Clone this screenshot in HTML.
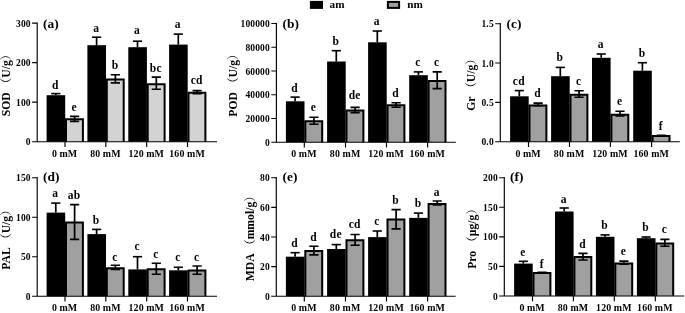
<!DOCTYPE html>
<html><head><meta charset="utf-8"><title>figure</title>
<style>html,body{margin:0;padding:0;background:#fff}body{width:685px;height:313px;overflow:hidden}svg{display:block}text{font-family:"Liberation Serif", "Noto Serif CJK SC", serif;font-weight:bold;fill:#000}.t{font-size:9.5px;letter-spacing:0.15px}.x{font-size:9.9px;letter-spacing:0.12px}.l{font-size:11.5px;letter-spacing:0.3px}.p{font-size:13.4px}.y{font-size:11.7px}.g{font-size:11.2px}.n{font-weight:normal}</style></head><body>
<svg width="685" height="313" viewBox="0 0 685 313">
<rect width="685" height="313" fill="#fff"/>
<rect x="309.9" y="0.9" width="13.1" height="8.0" fill="#000"/>
<text class="g" x="329.6" y="8.0">am</text>
<rect x="387.9" y="1.9" width="11.2" height="6.0" fill="#a0a0a0" stroke="#000" stroke-width="2"/>
<text class="g" x="407.2" y="8.0">nm</text>
<g id="panel-a">
<rect x="46.60" y="95.20" width="18.6" height="46.50" fill="#000"/>
<path d="M55.80 95.20V93.60" stroke="#000" stroke-width="1.7" fill="none"/><path d="M51.20 93.60H60.40" stroke="#000" stroke-width="1.6" fill="none"/>
<text class="l" x="55.40" y="88.50" text-anchor="middle">d</text>
<path d="M66.00 141.70V119.20H82.90V141.70" fill="#d3d3d3" stroke="#000" stroke-width="2.0"/>
<path d="M74.60 116.40V121.40" stroke="#000" stroke-width="1.7" fill="none"/><path d="M70.00 116.40H79.20M70.00 121.40H79.20" stroke="#000" stroke-width="1.6" fill="none"/>
<text class="l" x="74.20" y="110.60" text-anchor="middle">e</text>
<rect x="87.40" y="45.20" width="18.6" height="96.50" fill="#000"/>
<path d="M96.60 45.20V37.20" stroke="#000" stroke-width="1.7" fill="none"/><path d="M92.00 37.20H101.20" stroke="#000" stroke-width="1.6" fill="none"/>
<text class="l" x="96.20" y="32.00" text-anchor="middle">a</text>
<path d="M106.80 141.70V79.60H123.70V141.70" fill="#d3d3d3" stroke="#000" stroke-width="2.0"/>
<path d="M115.40 74.70V82.90" stroke="#000" stroke-width="1.7" fill="none"/><path d="M110.80 74.70H120.00M110.80 82.90H120.00" stroke="#000" stroke-width="1.6" fill="none"/>
<text class="l" x="115.00" y="68.80" text-anchor="middle">b</text>
<rect x="128.30" y="47.20" width="18.6" height="94.50" fill="#000"/>
<path d="M137.50 47.20V41.20" stroke="#000" stroke-width="1.7" fill="none"/><path d="M132.90 41.20H142.10" stroke="#000" stroke-width="1.6" fill="none"/>
<text class="l" x="137.10" y="33.80" text-anchor="middle">a</text>
<path d="M147.70 141.70V84.30H164.60V141.70" fill="#d3d3d3" stroke="#000" stroke-width="2.0"/>
<path d="M156.30 77.10V89.20" stroke="#000" stroke-width="1.7" fill="none"/><path d="M151.70 77.10H160.90M151.70 89.20H160.90" stroke="#000" stroke-width="1.6" fill="none"/>
<text class="l" x="155.90" y="71.80" text-anchor="middle">bc</text>
<rect x="169.10" y="44.60" width="18.6" height="97.10" fill="#000"/>
<path d="M178.30 44.60V34.10" stroke="#000" stroke-width="1.7" fill="none"/><path d="M173.70 34.10H182.90" stroke="#000" stroke-width="1.6" fill="none"/>
<text class="l" x="177.90" y="28.40" text-anchor="middle">a</text>
<path d="M188.50 141.70V92.70H205.40V141.70" fill="#d3d3d3" stroke="#000" stroke-width="2.0"/>
<path d="M197.10 90.60V93.60" stroke="#000" stroke-width="1.7" fill="none"/><path d="M192.50 90.60H201.70M192.50 93.60H201.70" stroke="#000" stroke-width="1.6" fill="none"/>
<text class="l" x="196.70" y="83.50" text-anchor="middle">cd</text>
<path d="M37.20 22.53V141.70M32.10 141.70H217.00M32.10 23.10H37.20M32.10 62.63H37.20M32.10 102.17H37.20M65.00 141.70V146.90M105.80 141.70V146.90M146.70 141.70V146.90M187.50 141.70V146.90" stroke="#000" stroke-width="1.15" fill="none"/>
<text class="t" x="30.70" y="26.70" text-anchor="end">300</text>
<text class="t" x="30.70" y="66.23" text-anchor="end">200</text>
<text class="t" x="30.70" y="105.77" text-anchor="end">100</text>
<text class="t" x="30.70" y="145.30" text-anchor="end">0</text>
<text class="x" x="64.60" y="156.80" text-anchor="middle">0 mM</text>
<text class="x" x="105.40" y="156.80" text-anchor="middle">80 mM</text>
<text class="x" x="146.30" y="156.80" text-anchor="middle">120 mM</text>
<text class="x" x="187.10" y="156.80" text-anchor="middle">160 mM</text>
<text class="p" x="43.00" y="27.70">(a)</text>
<text class="y" transform="translate(9.60 82.40) rotate(-90)" text-anchor="middle">SOD <tspan class="n">（</tspan>U/g<tspan class="n">）</tspan></text>
</g>
<g id="panel-b">
<rect x="285.90" y="101.30" width="18.6" height="40.90" fill="#000"/>
<path d="M295.10 101.30V97.10" stroke="#000" stroke-width="1.7" fill="none"/><path d="M290.50 97.10H299.70" stroke="#000" stroke-width="1.6" fill="none"/>
<text class="l" x="294.70" y="91.90" text-anchor="middle">d</text>
<path d="M305.30 142.20V121.20H322.20V142.20" fill="#a0a0a0" stroke="#000" stroke-width="2.0"/>
<path d="M313.90 117.30V124.30" stroke="#000" stroke-width="1.7" fill="none"/><path d="M309.30 117.30H318.50M309.30 124.30H318.50" stroke="#000" stroke-width="1.6" fill="none"/>
<text class="l" x="313.50" y="111.30" text-anchor="middle">e</text>
<rect x="327.10" y="61.50" width="18.6" height="80.70" fill="#000"/>
<path d="M336.30 61.50V50.70" stroke="#000" stroke-width="1.7" fill="none"/><path d="M331.70 50.70H340.90" stroke="#000" stroke-width="1.6" fill="none"/>
<text class="l" x="335.90" y="44.60" text-anchor="middle">b</text>
<path d="M346.50 142.20V110.40H363.40V142.20" fill="#a0a0a0" stroke="#000" stroke-width="2.0"/>
<path d="M355.10 107.40V112.60" stroke="#000" stroke-width="1.7" fill="none"/><path d="M350.50 107.40H359.70M350.50 112.60H359.70" stroke="#000" stroke-width="1.6" fill="none"/>
<text class="l" x="354.70" y="98.60" text-anchor="middle">de</text>
<rect x="368.10" y="42.30" width="18.6" height="99.90" fill="#000"/>
<path d="M377.30 42.30V31.00" stroke="#000" stroke-width="1.7" fill="none"/><path d="M372.70 31.00H381.90" stroke="#000" stroke-width="1.6" fill="none"/>
<text class="l" x="376.90" y="24.80" text-anchor="middle">a</text>
<path d="M387.50 142.20V105.30H404.40V142.20" fill="#a0a0a0" stroke="#000" stroke-width="2.0"/>
<path d="M396.10 102.70V107.20" stroke="#000" stroke-width="1.7" fill="none"/><path d="M391.50 102.70H400.70M391.50 107.20H400.70" stroke="#000" stroke-width="1.6" fill="none"/>
<text class="l" x="395.70" y="97.00" text-anchor="middle">d</text>
<rect x="409.20" y="75.20" width="18.6" height="67.00" fill="#000"/>
<path d="M418.40 75.20V71.90" stroke="#000" stroke-width="1.7" fill="none"/><path d="M413.80 71.90H423.00" stroke="#000" stroke-width="1.6" fill="none"/>
<text class="l" x="418.00" y="66.00" text-anchor="middle">c</text>
<path d="M428.60 142.20V81.10H445.50V142.20" fill="#a0a0a0" stroke="#000" stroke-width="2.0"/>
<path d="M437.20 71.90V88.60" stroke="#000" stroke-width="1.7" fill="none"/><path d="M432.60 71.90H441.80M432.60 88.60H441.80" stroke="#000" stroke-width="1.6" fill="none"/>
<text class="l" x="436.80" y="66.00" text-anchor="middle">c</text>
<path d="M276.40 22.93V142.20M271.30 142.20H455.80M271.30 23.50H276.40M271.30 47.24H276.40M271.30 70.98H276.40M271.30 94.72H276.40M271.30 118.46H276.40M304.30 142.20V147.40M345.50 142.20V147.40M386.50 142.20V147.40M427.60 142.20V147.40" stroke="#000" stroke-width="1.15" fill="none"/>
<text class="t" x="269.90" y="27.10" text-anchor="end">100000</text>
<text class="t" x="269.90" y="50.84" text-anchor="end">80000</text>
<text class="t" x="269.90" y="74.58" text-anchor="end">60000</text>
<text class="t" x="269.90" y="98.32" text-anchor="end">40000</text>
<text class="t" x="269.90" y="122.06" text-anchor="end">20000</text>
<text class="t" x="269.90" y="145.80" text-anchor="end">0</text>
<text class="x" x="303.90" y="157.30" text-anchor="middle">0 mM</text>
<text class="x" x="345.10" y="157.30" text-anchor="middle">80 mM</text>
<text class="x" x="386.10" y="157.30" text-anchor="middle">120 mM</text>
<text class="x" x="427.20" y="157.30" text-anchor="middle">160 mM</text>
<text class="p" x="282.60" y="27.70">(b)</text>
<text class="y" transform="translate(237.20 82.45) rotate(-90)" text-anchor="middle">POD <tspan class="n">（</tspan>U/g<tspan class="n">）</tspan></text>
</g>
<g id="panel-c">
<rect x="510.10" y="96.30" width="18.6" height="45.40" fill="#000"/>
<path d="M519.30 96.30V90.60" stroke="#000" stroke-width="1.7" fill="none"/><path d="M514.70 90.60H523.90" stroke="#000" stroke-width="1.6" fill="none"/>
<text class="l" x="518.90" y="84.50" text-anchor="middle">cd</text>
<path d="M529.50 141.70V105.40H546.40V141.70" fill="#a0a0a0" stroke="#000" stroke-width="2.0"/>
<path d="M538.10 103.10V105.60" stroke="#000" stroke-width="1.7" fill="none"/><path d="M533.50 103.10H542.70M533.50 105.60H542.70" stroke="#000" stroke-width="1.6" fill="none"/>
<text class="l" x="537.70" y="97.00" text-anchor="middle">d</text>
<rect x="551.10" y="76.20" width="18.6" height="65.50" fill="#000"/>
<path d="M560.30 76.20V67.40" stroke="#000" stroke-width="1.7" fill="none"/><path d="M555.70 67.40H564.90" stroke="#000" stroke-width="1.6" fill="none"/>
<text class="l" x="559.90" y="60.70" text-anchor="middle">b</text>
<path d="M570.50 141.70V94.80H587.40V141.70" fill="#a0a0a0" stroke="#000" stroke-width="2.0"/>
<path d="M579.10 90.80V97.20" stroke="#000" stroke-width="1.7" fill="none"/><path d="M574.50 90.80H583.70M574.50 97.20H583.70" stroke="#000" stroke-width="1.6" fill="none"/>
<text class="l" x="578.70" y="84.50" text-anchor="middle">c</text>
<rect x="592.00" y="57.80" width="18.6" height="83.90" fill="#000"/>
<path d="M601.20 57.80V54.00" stroke="#000" stroke-width="1.7" fill="none"/><path d="M596.60 54.00H605.80" stroke="#000" stroke-width="1.6" fill="none"/>
<text class="l" x="600.80" y="47.50" text-anchor="middle">a</text>
<path d="M611.40 141.70V114.70H628.30V141.70" fill="#a0a0a0" stroke="#000" stroke-width="2.0"/>
<path d="M620.00 111.30V116.00" stroke="#000" stroke-width="1.7" fill="none"/><path d="M615.40 111.30H624.60M615.40 116.00H624.60" stroke="#000" stroke-width="1.6" fill="none"/>
<text class="l" x="619.60" y="104.70" text-anchor="middle">e</text>
<rect x="633.20" y="70.70" width="18.6" height="71.00" fill="#000"/>
<path d="M642.40 70.70V62.70" stroke="#000" stroke-width="1.7" fill="none"/><path d="M637.80 62.70H647.00" stroke="#000" stroke-width="1.6" fill="none"/>
<text class="l" x="642.00" y="56.90" text-anchor="middle">b</text>
<path d="M652.60 141.70V136.10H669.50V141.70" fill="#a0a0a0" stroke="#000" stroke-width="2.0"/>
<path d="M661.20 135.30V136.30" stroke="#000" stroke-width="1.7" fill="none"/><path d="M656.60 135.30H665.80M656.60 136.30H665.80" stroke="#000" stroke-width="1.6" fill="none"/>
<text class="l" x="660.80" y="130.10" text-anchor="middle">f</text>
<path d="M500.30 23.12V141.70M495.20 141.70H679.80M495.20 23.70H500.30M495.20 63.03H500.30M495.20 102.37H500.30M528.50 141.70V146.90M569.50 141.70V146.90M610.40 141.70V146.90M651.60 141.70V146.90" stroke="#000" stroke-width="1.15" fill="none"/>
<text class="t" x="493.80" y="27.30" text-anchor="end">1.5</text>
<text class="t" x="493.80" y="66.63" text-anchor="end">1.0</text>
<text class="t" x="493.80" y="105.97" text-anchor="end">0.5</text>
<text class="t" x="493.80" y="145.30" text-anchor="end">0.0</text>
<text class="x" x="528.10" y="156.80" text-anchor="middle">0 mM</text>
<text class="x" x="569.10" y="156.80" text-anchor="middle">80 mM</text>
<text class="x" x="610.00" y="156.80" text-anchor="middle">120 mM</text>
<text class="x" x="651.20" y="156.80" text-anchor="middle">160 mM</text>
<text class="p" x="506.60" y="27.70">(c)</text>
<text class="y" transform="translate(475.00 81.90) rotate(-90)" text-anchor="middle">Gr <tspan class="n">（</tspan>U/g<tspan class="n">）</tspan></text>
</g>
<g id="panel-d">
<rect x="46.60" y="212.60" width="18.6" height="83.60" fill="#000"/>
<path d="M55.80 212.60V203.10" stroke="#000" stroke-width="1.7" fill="none"/><path d="M51.20 203.10H60.40" stroke="#000" stroke-width="1.6" fill="none"/>
<text class="l" x="55.40" y="197.10" text-anchor="middle">a</text>
<path d="M66.00 296.20V222.50H82.90V296.20" fill="#a0a0a0" stroke="#000" stroke-width="2.0"/>
<path d="M74.60 204.60V239.40" stroke="#000" stroke-width="1.7" fill="none"/><path d="M70.00 204.60H79.20M70.00 239.40H79.20" stroke="#000" stroke-width="1.6" fill="none"/>
<text class="l" x="74.20" y="198.50" text-anchor="middle">ab</text>
<rect x="87.40" y="234.10" width="18.6" height="62.10" fill="#000"/>
<path d="M96.60 234.10V229.40" stroke="#000" stroke-width="1.7" fill="none"/><path d="M92.00 229.40H101.20" stroke="#000" stroke-width="1.6" fill="none"/>
<text class="l" x="96.20" y="224.00" text-anchor="middle">b</text>
<path d="M106.80 296.20V268.20H123.70V296.20" fill="#a0a0a0" stroke="#000" stroke-width="2.0"/>
<path d="M115.40 265.20V269.50" stroke="#000" stroke-width="1.7" fill="none"/><path d="M110.80 265.20H120.00M110.80 269.50H120.00" stroke="#000" stroke-width="1.6" fill="none"/>
<text class="l" x="115.00" y="260.70" text-anchor="middle">c</text>
<rect x="128.30" y="269.40" width="18.6" height="26.80" fill="#000"/>
<path d="M137.50 269.40V256.70" stroke="#000" stroke-width="1.7" fill="none"/><path d="M132.90 256.70H142.10" stroke="#000" stroke-width="1.6" fill="none"/>
<text class="l" x="137.10" y="250.10" text-anchor="middle">c</text>
<path d="M147.70 296.20V269.30H164.60V296.20" fill="#a0a0a0" stroke="#000" stroke-width="2.0"/>
<path d="M156.30 263.20V274.30" stroke="#000" stroke-width="1.7" fill="none"/><path d="M151.70 263.20H160.90M151.70 274.30H160.90" stroke="#000" stroke-width="1.6" fill="none"/>
<text class="l" x="155.90" y="257.60" text-anchor="middle">c</text>
<rect x="169.10" y="270.30" width="18.6" height="25.90" fill="#000"/>
<path d="M178.30 270.30V267.30" stroke="#000" stroke-width="1.7" fill="none"/><path d="M173.70 267.30H182.90" stroke="#000" stroke-width="1.6" fill="none"/>
<text class="l" x="177.90" y="261.20" text-anchor="middle">c</text>
<path d="M188.50 296.20V270.50H205.40V296.20" fill="#a0a0a0" stroke="#000" stroke-width="2.0"/>
<path d="M197.10 266.00V274.20" stroke="#000" stroke-width="1.7" fill="none"/><path d="M192.50 266.00H201.70M192.50 274.20H201.70" stroke="#000" stroke-width="1.6" fill="none"/>
<text class="l" x="196.70" y="260.60" text-anchor="middle">c</text>
<path d="M37.20 177.12V296.20M32.10 296.20H217.00M32.10 177.70H37.20M32.10 217.20H37.20M32.10 256.70H37.20M65.00 296.20V301.40M105.80 296.20V301.40M146.70 296.20V301.40M187.50 296.20V301.40" stroke="#000" stroke-width="1.15" fill="none"/>
<text class="t" x="30.70" y="181.30" text-anchor="end">150</text>
<text class="t" x="30.70" y="220.80" text-anchor="end">100</text>
<text class="t" x="30.70" y="260.30" text-anchor="end">50</text>
<text class="t" x="30.70" y="299.80" text-anchor="end">0</text>
<text class="x" x="64.60" y="311.30" text-anchor="middle">0 mM</text>
<text class="x" x="105.40" y="311.30" text-anchor="middle">80 mM</text>
<text class="x" x="146.30" y="311.30" text-anchor="middle">120 mM</text>
<text class="x" x="187.10" y="311.30" text-anchor="middle">160 mM</text>
<text class="p" x="43.00" y="180.70">(d)</text>
<text class="y" transform="translate(9.60 236.95) rotate(-90)" text-anchor="middle">PAL <tspan class="n">（</tspan>U/g<tspan class="n">）</tspan></text>
</g>
<g id="panel-e">
<rect x="285.90" y="256.70" width="18.6" height="39.50" fill="#000"/>
<path d="M295.10 256.70V252.70" stroke="#000" stroke-width="1.7" fill="none"/><path d="M290.50 252.70H299.70" stroke="#000" stroke-width="1.6" fill="none"/>
<text class="l" x="294.70" y="246.90" text-anchor="middle">d</text>
<path d="M305.30 296.20V250.90H322.20V296.20" fill="#a0a0a0" stroke="#000" stroke-width="2.0"/>
<path d="M313.90 246.20V254.90" stroke="#000" stroke-width="1.7" fill="none"/><path d="M309.30 246.20H318.50M309.30 254.90H318.50" stroke="#000" stroke-width="1.6" fill="none"/>
<text class="l" x="313.50" y="240.50" text-anchor="middle">d</text>
<rect x="327.10" y="249.00" width="18.6" height="47.20" fill="#000"/>
<path d="M336.30 249.00V244.60" stroke="#000" stroke-width="1.7" fill="none"/><path d="M331.70 244.60H340.90" stroke="#000" stroke-width="1.6" fill="none"/>
<text class="l" x="335.90" y="237.90" text-anchor="middle">de</text>
<path d="M346.50 296.20V240.30H363.40V296.20" fill="#a0a0a0" stroke="#000" stroke-width="2.0"/>
<path d="M355.10 234.50V245.30" stroke="#000" stroke-width="1.7" fill="none"/><path d="M350.50 234.50H359.70M350.50 245.30H359.70" stroke="#000" stroke-width="1.6" fill="none"/>
<text class="l" x="354.70" y="227.90" text-anchor="middle">cd</text>
<rect x="368.10" y="237.10" width="18.6" height="59.10" fill="#000"/>
<path d="M377.30 237.10V231.00" stroke="#000" stroke-width="1.7" fill="none"/><path d="M372.70 231.00H381.90" stroke="#000" stroke-width="1.6" fill="none"/>
<text class="l" x="376.90" y="225.20" text-anchor="middle">c</text>
<path d="M387.50 296.20V219.60H404.40V296.20" fill="#a0a0a0" stroke="#000" stroke-width="2.0"/>
<path d="M396.10 209.60V228.90" stroke="#000" stroke-width="1.7" fill="none"/><path d="M391.50 209.60H400.70M391.50 228.90H400.70" stroke="#000" stroke-width="1.6" fill="none"/>
<text class="l" x="395.70" y="203.50" text-anchor="middle">b</text>
<rect x="409.20" y="217.90" width="18.6" height="78.30" fill="#000"/>
<path d="M418.40 217.90V213.10" stroke="#000" stroke-width="1.7" fill="none"/><path d="M413.80 213.10H423.00" stroke="#000" stroke-width="1.6" fill="none"/>
<text class="l" x="418.00" y="206.90" text-anchor="middle">b</text>
<path d="M428.60 296.20V204.10H445.50V296.20" fill="#a0a0a0" stroke="#000" stroke-width="2.0"/>
<path d="M437.20 201.00V205.00" stroke="#000" stroke-width="1.7" fill="none"/><path d="M432.60 201.00H441.80M432.60 205.00H441.80" stroke="#000" stroke-width="1.6" fill="none"/>
<text class="l" x="436.80" y="195.50" text-anchor="middle">a</text>
<path d="M276.30 177.12V296.20M271.20 296.20H455.60M271.20 177.70H276.30M271.20 207.32H276.30M271.20 236.95H276.30M271.20 266.57H276.30M304.30 296.20V301.40M345.50 296.20V301.40M386.50 296.20V301.40M427.60 296.20V301.40" stroke="#000" stroke-width="1.15" fill="none"/>
<text class="t" x="269.80" y="181.30" text-anchor="end">80</text>
<text class="t" x="269.80" y="210.92" text-anchor="end">60</text>
<text class="t" x="269.80" y="240.55" text-anchor="end">40</text>
<text class="t" x="269.80" y="270.18" text-anchor="end">20</text>
<text class="t" x="269.80" y="299.80" text-anchor="end">0</text>
<text class="x" x="303.90" y="311.30" text-anchor="middle">0 mM</text>
<text class="x" x="345.10" y="311.30" text-anchor="middle">80 mM</text>
<text class="x" x="386.10" y="311.30" text-anchor="middle">120 mM</text>
<text class="x" x="427.20" y="311.30" text-anchor="middle">160 mM</text>
<text class="p" x="282.60" y="180.70">(e)</text>
<text class="y" transform="translate(254.20 235.65) rotate(-90)" text-anchor="middle">MDA <tspan class="n">（</tspan>mmol/g<tspan class="n">）</tspan></text>
</g>
<g id="panel-f">
<rect x="514.10" y="263.60" width="18.6" height="32.40" fill="#000"/>
<path d="M523.30 263.60V261.30" stroke="#000" stroke-width="1.7" fill="none"/><path d="M518.70 261.30H527.90" stroke="#000" stroke-width="1.6" fill="none"/>
<text class="l" x="522.90" y="255.60" text-anchor="middle">e</text>
<path d="M533.50 296.00V273.00H550.40V296.00" fill="#a0a0a0" stroke="#000" stroke-width="2.0"/>
<path d="M542.10 272.40V273.00" stroke="#000" stroke-width="1.7" fill="none"/><path d="M537.50 272.40H546.70M537.50 273.00H546.70" stroke="#000" stroke-width="1.6" fill="none"/>
<text class="l" x="541.70" y="268.10" text-anchor="middle">f</text>
<rect x="555.00" y="211.50" width="18.6" height="84.50" fill="#000"/>
<path d="M564.20 211.50V208.00" stroke="#000" stroke-width="1.7" fill="none"/><path d="M559.60 208.00H568.80" stroke="#000" stroke-width="1.6" fill="none"/>
<text class="l" x="563.80" y="203.00" text-anchor="middle">a</text>
<path d="M574.40 296.00V257.10H591.30V296.00" fill="#a0a0a0" stroke="#000" stroke-width="2.0"/>
<path d="M583.00 253.40V260.00" stroke="#000" stroke-width="1.7" fill="none"/><path d="M578.40 253.40H587.60M578.40 260.00H587.60" stroke="#000" stroke-width="1.6" fill="none"/>
<text class="l" x="582.60" y="247.50" text-anchor="middle">d</text>
<rect x="595.90" y="236.80" width="18.6" height="59.20" fill="#000"/>
<path d="M605.10 236.80V234.90" stroke="#000" stroke-width="1.7" fill="none"/><path d="M600.50 234.90H609.70" stroke="#000" stroke-width="1.6" fill="none"/>
<text class="l" x="604.70" y="229.00" text-anchor="middle">b</text>
<path d="M615.30 296.00V263.40H632.20V296.00" fill="#a0a0a0" stroke="#000" stroke-width="2.0"/>
<path d="M623.90 261.10V264.30" stroke="#000" stroke-width="1.7" fill="none"/><path d="M619.30 261.10H628.50M619.30 264.30H628.50" stroke="#000" stroke-width="1.6" fill="none"/>
<text class="l" x="623.50" y="255.00" text-anchor="middle">e</text>
<rect x="636.90" y="238.20" width="18.6" height="57.80" fill="#000"/>
<path d="M646.10 238.20V237.00" stroke="#000" stroke-width="1.7" fill="none"/><path d="M641.50 237.00H650.70" stroke="#000" stroke-width="1.6" fill="none"/>
<text class="l" x="645.70" y="230.80" text-anchor="middle">b</text>
<path d="M656.30 296.00V243.60H673.20V296.00" fill="#a0a0a0" stroke="#000" stroke-width="2.0"/>
<path d="M664.90 239.40V246.20" stroke="#000" stroke-width="1.7" fill="none"/><path d="M660.30 239.40H669.50M660.30 246.20H669.50" stroke="#000" stroke-width="1.6" fill="none"/>
<text class="l" x="664.50" y="233.40" text-anchor="middle">c</text>
<path d="M504.30 177.12V296.00M499.20 296.00H684.00M499.20 177.70H504.30M499.20 207.27H504.30M499.20 236.85H504.30M499.20 266.43H504.30M532.50 296.00V301.20M573.40 296.00V301.20M614.30 296.00V301.20M655.30 296.00V301.20" stroke="#000" stroke-width="1.15" fill="none"/>
<text class="t" x="497.80" y="181.30" text-anchor="end">200</text>
<text class="t" x="497.80" y="210.87" text-anchor="end">150</text>
<text class="t" x="497.80" y="240.45" text-anchor="end">100</text>
<text class="t" x="497.80" y="270.03" text-anchor="end">50</text>
<text class="t" x="497.80" y="299.60" text-anchor="end">0</text>
<text class="x" x="532.10" y="311.10" text-anchor="middle">0 mM</text>
<text class="x" x="573.00" y="311.10" text-anchor="middle">80 mM</text>
<text class="x" x="613.90" y="311.10" text-anchor="middle">120 mM</text>
<text class="x" x="654.90" y="311.10" text-anchor="middle">160 mM</text>
<text class="p" x="510.00" y="180.70">(f)</text>
<text class="y" transform="translate(475.70 235.85) rotate(-90)" text-anchor="middle">Pro <tspan class="n">（</tspan>µg/g<tspan class="n">）</tspan></text>
</g>
</svg></body></html>
